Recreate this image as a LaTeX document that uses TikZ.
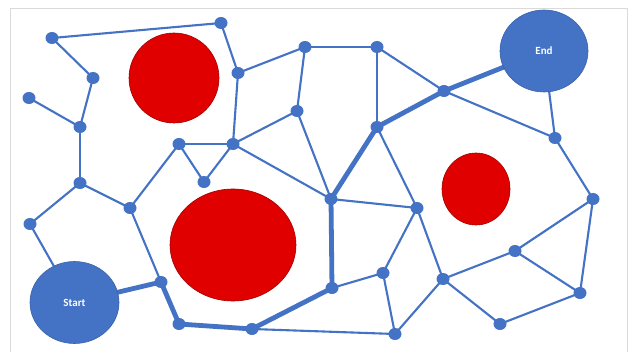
\documentclass[tikz,border=0pt]{standalone}
\usepackage{fontspec}
\setmainfont{Carlito}
\definecolor{nblue}{HTML}{4472C4}
\definecolor{nbord}{HTML}{3A62AA}
\definecolor{rfill}{HTML}{E10000}
\definecolor{rbord}{HTML}{A00000}
\definecolor{frame}{HTML}{DADADA}
\tikzset{
  dot/.style={ellipse, fill=nblue, minimum width=13pt, minimum height=12pt, inner sep=0pt},
  big/.style={circle, fill=nblue, draw=nbord, line width=0.6pt, inner sep=0pt, text=white, font=\bfseries\fontsize{11}{13}\selectfont},
  obst/.style={fill=rfill, draw=rbord, line width=0.6pt},
  thin/.style={draw=nblue, line width=2.1pt},
  thick/.style={draw=nblue, line width=4.8pt},
}
\usetikzlibrary{shapes.geometric}
\begin{document}
\begin{tikzpicture}[x=1pt,y=-1pt]
\useasboundingbox (0,0) rectangle (631,352);
\fill[white] (0,0) rectangle (631,352);
\draw[frame, line width=0.8pt] (10,360) -- (10,8) -- (627,8) -- (627,360);
% obstacles
\path[obst] (174,78) ellipse [x radius=45, y radius=45];
\path[obst] (233,245) ellipse [x radius=63, y radius=56];
\path[obst] (476,189) ellipse [x radius=34, y radius=36];
% node positions
\coordinate (a1) at (52,38);
\coordinate (a2) at (221,23);
\coordinate (a3) at (93,78);
\coordinate (a4) at (29,98);
\coordinate (a5) at (80,127);
\coordinate (a6) at (238,73);
\coordinate (a7) at (305,47);
\coordinate (a8) at (297,111);
\coordinate (a9) at (179,144);
\coordinate (a10) at (233,144);
\coordinate (a11) at (204,182);
\coordinate (b1) at (377,47);
\coordinate (b2) at (444,91);
\coordinate (b3) at (377,127);
\coordinate (b4) at (555,138);
\coordinate (c1) at (80,183);
\coordinate (c2) at (30,224);
\coordinate (c3) at (130,208);
\coordinate (c4) at (161,282);
\coordinate (c5) at (179,324);
\coordinate (c6) at (252,329);
\coordinate (d1) at (331,199);
\coordinate (d2) at (417,208);
\coordinate (d3) at (593,199);
\coordinate (d4) at (515,251);
\coordinate (d5) at (383,273);
\coordinate (d6) at (443,279);
\coordinate (d7) at (332,288);
\coordinate (d8) at (580,293);
\coordinate (d9) at (500,324);
\coordinate (d10) at (395,334);
\coordinate (st) at (74.5,302.5);
\coordinate (en) at (544,51);
% thin edges
\foreach \u/\v in {a1/a2,a1/a3,a3/a5,a4/a5,a5/c1,a2/a6,a6/a10,a6/a7,a7/b1,a7/a8,a8/a10,a8/d1,a9/a10,a9/a11,a10/a11,a9/c3,a10/d1,c1/c2,c1/c3,c2/st,c3/c4,c6/d10,b1/b3,b1/b2,b2/b4,en/b4,b4/d3,b3/d2,d1/d2,d2/d5,d2/d6,d5/d7,d5/d10,d10/d6,d6/d4,d6/d9,d4/d3,d4/d8,d3/d8,d8/d9}
  \draw[thin] (\u) -- (\v);
% thick path
\draw[thick, line join=round] (st) -- (c4) -- (c5) -- (c6) -- (d7) -- (d1) -- (b3) -- (b2) -- (en);
% dots
\foreach \n in {a1,a2,a3,a4,a5,a6,a7,a8,a9,a10,a11,b1,b2,b3,b4,c1,c2,c3,c4,c5,c6,d1,d2,d3,d4,d5,d6,d7,d8,d9,d10}
  \node[dot] (n\n) at (\n) {};
\node[big, ellipse, minimum width=89pt, minimum height=82pt] (start) at (st) {Start};
\node[big, ellipse, minimum width=88pt, minimum height=82pt] (end) at (en) {End};
\end{tikzpicture}
\end{document}
